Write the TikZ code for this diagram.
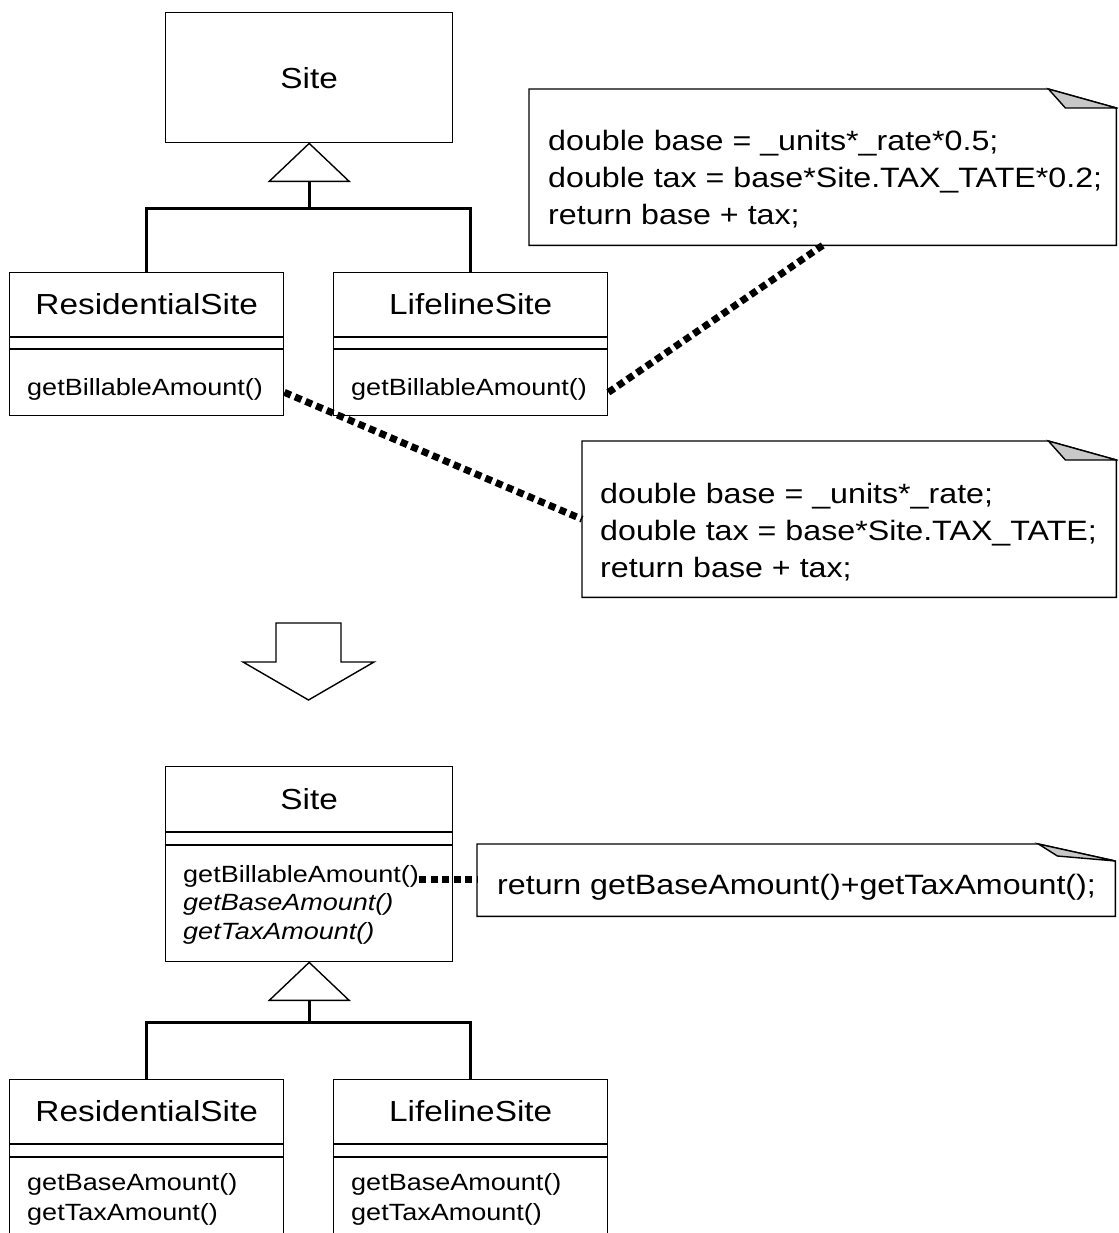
\documentclass[tikz,border=0pt]{standalone}
\usepackage{fontspec}
\setmainfont{Liberation Sans}[FakeStretch=1.15]
\usetikzlibrary{calc}
\definecolor{foldgray}{RGB}{200,200,200}
\tikzset{
  classbox/.style={draw, line width=1.4pt, anchor=north west, inner sep=0pt, minimum width=274pt},
  classname/.style={font=\fontsize{29}{34}\selectfont, inner sep=0pt},
  opname/.style={font=\fontsize{23.5}{28}\selectfont, anchor=base west, inner sep=0pt},
  absop/.style={opname, font=\fontsize{23.5}{28}\selectfont\itshape},
  notebody/.style={anchor=north west, inner sep=0pt},
  notetext/.style={font=\fontsize{28}{34}\selectfont, anchor=base west, inner sep=0pt},
  thinline/.style={line width=1.4pt},
  genline/.style={line width=3.2pt},
  gentri/.style={draw, line width=1.4pt, fill=white},
  anchorline/.style={line width=7pt, dash pattern=on 7pt off 4.5pt},
}
\begin{document}
\begin{tikzpicture}[x=1pt,y=-1pt]
  \clip (0,0) rectangle (1118,1233);
  \def\fold{68pt}
  % before the refactoring
  \node[classbox, minimum width=287pt, minimum height=130pt] (siteOld) at (165,12) {};
  \node[classname] (siteOldName) at (siteOld.center) {Site};
  \node[classbox, minimum height=143pt] (resOld) at (9,272) {};
  \node[classbox, minimum height=143pt] (lifeOld) at (333,272) {};
  \foreach \c in {resOld,lifeOld}{
    \draw[thinline] ([yshift=-65pt]\c.north west) -- ([yshift=-65pt]\c.north east);
    \draw[thinline] ([yshift=-77pt]\c.north west) -- ([yshift=-77pt]\c.north east);
  }
  \node[classname] (resOldName) at ([yshift=-32.5pt]resOld.north) {ResidentialSite};
  \node[classname] (lifeOldName) at ([yshift=-32.5pt]lifeOld.north) {LifelineSite};
  \node[opname] (resOldOp) at ([xshift=18pt,yshift=-123pt]resOld.north west) {getBillableAmount()};
  \node[opname] (lifeOldOp) at ([xshift=18pt,yshift=-123pt]lifeOld.north west) {getBillableAmount()};

  \coordinate (triOld) at ([yshift=-38pt]siteOld.south);
  \draw[gentri] (siteOld.south) -- ([xshift=-40pt]triOld) -- ([xshift=40pt]triOld) -- cycle;
  \draw[genline] (triOld) -- ++(0,27) coordinate (barOld);
  \draw[genline] (resOld.north) |- (barOld) -| (lifeOld.north);

  % notes
  \node[notebody, minimum width=587pt, minimum height=156pt] (noteA) at (529,89) {};
  \draw[thinline] (noteA.north west) -- ([xshift=-\fold]noteA.north east) -- ([yshift=-19pt]noteA.north east)
    -- (noteA.south east) -- (noteA.south west) -- cycle;
  \filldraw[thinline, fill=foldgray] ([xshift=-\fold]noteA.north east) -- ([xshift=-51pt,yshift=-19pt]noteA.north east)
    -- ([yshift=-19pt]noteA.north east) -- cycle;
  \node[notetext] (noteA1) at (548,151) {double base = \_units*\_rate*0.5;};
  \node[notetext] (noteA2) at (548,188) {double tax = base*Site.TAX\_TATE*0.2;};
  \node[notetext] (noteA3) at (548,225) {return base + tax;};

  \node[notebody, minimum width=534pt, minimum height=156pt] (noteB) at (582,441) {};
  \draw[thinline] (noteB.north west) -- ([xshift=-\fold]noteB.north east) -- ([yshift=-19pt]noteB.north east)
    -- (noteB.south east) -- (noteB.south west) -- cycle;
  \filldraw[thinline, fill=foldgray] ([xshift=-\fold]noteB.north east) -- ([xshift=-51pt,yshift=-19pt]noteB.north east)
    -- ([yshift=-19pt]noteB.north east) -- cycle;
  \node[notetext] (noteB1) at (600,503) {double base = \_units*\_rate;};
  \node[notetext] (noteB2) at (600,540) {double tax = base*Site.TAX\_TATE;};
  \node[notetext] (noteB3) at (600,577) {return base + tax;};

  \draw[anchorline] (lifeOldOp.mid east -| lifeOld.east) -- (noteA.south);
  \draw[anchorline] (resOldOp.mid east -| resOld.east) -- (noteB.west);

  % refactoring arrow
  \draw[thinline] (276,623) -- (341,623) -- (341,662) -- (374,662) -- (308.5,700) -- (243,662) -- (276,662) -- cycle;

  % after the refactoring
  \node[classbox, minimum width=287pt, minimum height=195pt] (siteNew) at (165,766) {};
  \draw[thinline] ([yshift=-66pt]siteNew.north west) -- ([yshift=-66pt]siteNew.north east);
  \draw[thinline] ([yshift=-79pt]siteNew.north west) -- ([yshift=-79pt]siteNew.north east);
  \node[classname] (siteNewName) at ([yshift=-33pt]siteNew.north) {Site};
  \node[opname] (siteNewOp1) at ([xshift=18pt,yshift=-116pt]siteNew.north west) {getBillableAmount()};
  \node[absop] (siteNewOp2) at ([yshift=-28.5pt]siteNewOp1.base west) {getBaseAmount()};
  \node[absop] (siteNewOp3) at ([yshift=-28.5pt]siteNewOp2.base west) {getTaxAmount()};

  \node[notebody, minimum width=638pt, minimum height=72pt] (noteC) at (477,844) {};
  \draw[thinline] (noteC.north west) -- ([xshift=-77pt]noteC.north east) -- ([yshift=-17pt]noteC.north east)
    -- (noteC.south east) -- (noteC.south west) -- cycle;
  \filldraw[thinline, fill=foldgray] ([xshift=-77pt]noteC.north east) -- ([xshift=-58pt,yshift=-12pt]noteC.north east)
    -- ([yshift=-17pt]noteC.north east) -- cycle;
  \node[notetext] (noteC1) at (497,894) {return getBaseAmount()+getTaxAmount();};
  \draw[anchorline] (siteNewOp1.mid east) -- (siteNewOp1.mid east -| noteC.west);

  \coordinate (triNew) at ([yshift=-38pt]siteNew.south);
  \draw[gentri] (siteNew.south) -- ([xshift=-40pt]triNew) -- ([xshift=40pt]triNew) -- cycle;

  \node[classbox, minimum height=180pt] (resNew) at (9,1079) {};
  \node[classbox, minimum height=180pt] (lifeNew) at (333,1079) {};
  \draw[genline] (triNew) -- ++(0,22) coordinate (barNew);
  \draw[genline] (resNew.north) |- (barNew) -| (lifeNew.north);
  \foreach \c in {resNew,lifeNew}{
    \draw[thinline] ([yshift=-65pt]\c.north west) -- ([yshift=-65pt]\c.north east);
    \draw[thinline] ([yshift=-78pt]\c.north west) -- ([yshift=-78pt]\c.north east);
  }
  \node[classname] (resNewName) at ([yshift=-32.5pt]resNew.north) {ResidentialSite};
  \node[classname] (lifeNewName) at ([yshift=-32.5pt]lifeNew.north) {LifelineSite};
  \node[opname] (resNewOp1) at ([xshift=18pt,yshift=-111pt]resNew.north west) {getBaseAmount()};
  \node[opname] (resNewOp2) at ([yshift=-30pt]resNewOp1.base west) {getTaxAmount()};
  \node[opname] (lifeNewOp1) at ([xshift=18pt,yshift=-111pt]lifeNew.north west) {getBaseAmount()};
  \node[opname] (lifeNewOp2) at ([yshift=-30pt]lifeNewOp1.base west) {getTaxAmount()};
\end{tikzpicture}
\end{document}
